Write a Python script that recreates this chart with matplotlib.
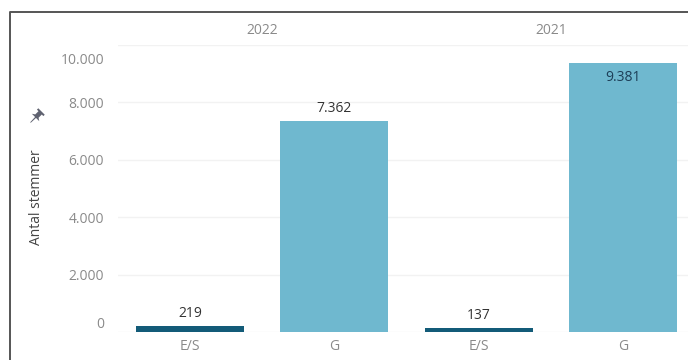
import numpy as np
import matplotlib.pyplot as plt
import matplotlib.transforms as mtransforms
from matplotlib.lines import Line2D
from matplotlib.patches import Polygon

plt.rcParams['font.family'] = ['Open Sans', 'DejaVu Sans']

years = ['2022', '2021']
categories = ['E/S', 'G', 'E/S', 'G']
values = [219, 7362, 137, 9381]
yticks = [0, 2000, 4000, 6000, 8000, 10000]
ytick_labels = ['0', '2.000', '4.000', '6.000', '8.000', '10.000']
value_labels = ['219', '7.362', '137', '9.381']

colors = ['#135b78', '#6fb8cf', '#135b78', '#6fb8cf']

fig = plt.figure(figsize=(6.88, 3.6), dpi=100)
W, H = 688, 360
# axes spans past the right edge (view is cropped like the reference)
ax = fig.add_axes([118 / W, 28 / H, 577 / W, 287 / H])

x = list(range(len(categories)))
ax.bar(x, values, width=0.75, color=colors, zorder=2)
ax.set_xlim(-0.5, 3.5)
ax.set_ylim(0, 10000)

ax.set_yticks(yticks)
ax.set_yticklabels(ytick_labels)
ax.set_xticks(x)
ax.set_xticklabels(categories)
ax.tick_params(axis='both', length=0, labelsize=10, labelcolor='#8a8a8a')
ax.tick_params(axis='y', pad=10)
ax.tick_params(axis='x', pad=5)

# push edge labels inward like the reference
ylabs = ax.get_yticklabels()
ylabs[0].set_transform(ylabs[0].get_transform() +
                       mtransforms.ScaledTranslation(0, 10 / 100, fig.dpi_scale_trans))
ylabs[-1].set_transform(ylabs[-1].get_transform() +
                        mtransforms.ScaledTranslation(0, -13 / 100, fig.dpi_scale_trans))

ax.grid(axis='y', color='#f2f2f2', linewidth=1, zorder=0)
for s in ax.spines.values():
    s.set_visible(False)

# value labels
for xi, v, lab in zip(x, values, value_labels):
    if v > 9000:
        ax.text(xi, v - 250, lab, ha='center', va='top', fontsize=10, color='#1d3e57', zorder=3)
    else:
        ax.text(xi, v + 170, lab, ha='center', va='bottom', fontsize=10, color='#333333', zorder=3)

# column headers
trans = mtransforms.blended_transform_factory(ax.transData, ax.transAxes)
for i, yr in enumerate(years):
    ax.text(i * 2 + 0.5, 1.052, yr, transform=trans, ha='center', va='center',
            fontsize=10, color='#8a8a8a')

# y axis title
fig.text(37 / W, 1 - 197 / H, 'Antal stemmer', rotation=90, ha='center', va='center',
         fontsize=10, color='#444444')

# pin icon (tilted push pin)
pin = np.array([[-3.5, 6], [3.5, 6], [3.5, 4.5], [1.8, 4.5], [1.8, 1], [4, -0.5],
                [0.5, -0.5], [0.3, -6], [-0.3, -6], [-0.5, -0.5], [-4, -0.5],
                [-1.8, 1], [-1.8, 4.5], [-3.5, 4.5]]) * 1.3
a = np.deg2rad(-45)
rot = np.array([[np.cos(a), -np.sin(a)], [np.sin(a), np.cos(a)]])
pin = pin @ rot.T + np.array([36, H - 117])
pin = pin / np.array([W, H])
fig.add_artist(Polygon(pin, closed=True, facecolor='#5f6270', edgecolor='none',
                       transform=fig.transFigure))

# outer border (top and left)
fig.add_artist(Line2D([10 / W, 10 / W, 1], [0, 1 - 11.5 / H, 1 - 11.5 / H],
                      color='#555555', linewidth=1.4, transform=fig.transFigure))

fig.savefig('out.png', dpi=100)
